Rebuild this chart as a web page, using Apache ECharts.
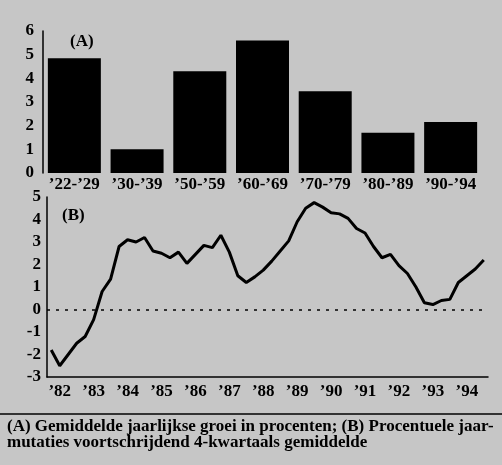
<!DOCTYPE html>
<html>
<head>
<meta charset="utf-8">
<script src="https://cdn.jsdelivr.net/npm/echarts@6/dist/echarts.min.js"></script>
<style>
  html, body { margin: 0; padding: 0; background: #c6c6c6; }
  #chart { width: 502px; height: 465px; }
</style>
</head>
<body>
<div id="chart"></div>
<script>
// (A) gemiddelde jaarlijkse groei per periode
const periods = ['’22-’29', '’30-’39', '’50-’59', '’60-’69', '’70-’79', '’80-’89', '’90-’94'];
const growth = [4.85, 1.0, 4.3, 5.6, 3.45, 1.7, 2.15];

// (B) kwartaalcijfers 1982 t/m 1994
const years = ['82', '83', '84', '85', '86', '87', '88', '89', '90', '91', '92', '93', '94'];
const mutations = [
  -1.8, -2.5, -2.0, -1.5,
  -1.2, -0.45, 0.8, 1.35,
  2.8, 3.1, 3.0, 3.2,
  2.6, 2.5, 2.3, 2.55,
  2.05, 2.45, 2.85, 2.75,
  3.3, 2.55, 1.5, 1.2,
  1.45, 1.75, 2.15, 2.6,
  3.05, 3.9, 4.5, 4.75,
  4.55, 4.3, 4.25, 4.05,
  3.6, 3.4, 2.8, 2.3,
  2.45, 1.95, 1.6, 1.0,
  0.3, 0.22, 0.4, 0.45,
  1.2, 1.5, 1.8, 2.2
];
const quarters = [];
years.forEach(function (y) {
  for (let q = 1; q <= 4; q++) quarters.push(y + 'Q' + q);
});

const serif = 'Liberation Serif';
const labelStyle = { color: '#000', fontFamily: serif, fontWeight: 'bold', fontSize: 17 };
const axisLineStyle = { show: true, onZero: false, lineStyle: { color: '#000', width: 1.5 } };

const chart = echarts.init(document.getElementById('chart'));

let option = {
  backgroundColor: '#c6c6c6',
  animation: false,
  grid: [
    { left: 43, top: 31, width: 439, height: 142 },
    { left: 47, top: 197, right: 14, height: 180 }
  ],
  xAxis: [
    {
      type: 'category',
      gridIndex: 0,
      data: periods,
      axisLine: { show: false },
      axisTick: { show: false },
      axisLabel: Object.assign({ interval: 0, margin: 3 }, labelStyle)
    },
    {
      // kwartalen: kleine streepjes + jaarlabels
      type: 'category',
      gridIndex: 1,
      data: quarters,
      axisLine: axisLineStyle,
      axisTick: { interval: 0, inside: true, length: 4, lineStyle: { color: '#000', width: 1 } },
      axisLabel: Object.assign({
        interval: function (i) { return i % 4 === 1; },
        formatter: function (v) { return '’' + v.slice(0, 2); },
        margin: 6
      }, labelStyle)
    },
    {
      // jaargrenzen: lange streepjes
      type: 'category',
      gridIndex: 1,
      data: quarters,
      axisLine: { show: false },
      axisTick: {
        interval: function (i) { return i % 4 === 0; },
        length: 5,
        lineStyle: { color: '#000', width: 1.5 }
      },
      axisLabel: { show: false }
    }
  ],
  yAxis: [
    {
      type: 'value',
      gridIndex: 0,
      position: 'left',
      min: 0,
      max: 6,
      interval: 1,
      axisLine: axisLineStyle,
      axisTick: { show: false },
      splitLine: { show: false },
      axisLabel: Object.assign({ margin: 9, showMinLabel: true, showMaxLabel: true }, labelStyle)
    },
    {
      type: 'value',
      gridIndex: 1,
      position: 'left',
      min: -3,
      max: 5,
      interval: 1,
      axisLine: axisLineStyle,
      axisTick: { show: false },
      splitLine: { show: false },
      axisLabel: Object.assign({ margin: 6, showMinLabel: true, showMaxLabel: true }, labelStyle)
    }
  ],
  series: [
    {
      name: 'groei',
      type: 'bar',
      xAxisIndex: 0,
      yAxisIndex: 0,
      data: growth,
      barWidth: 53,
      itemStyle: { color: '#000' }
    },
    {
      name: 'mutaties',
      type: 'line',
      xAxisIndex: 1,
      yAxisIndex: 1,
      data: mutations,
      symbol: 'none',
      lineStyle: { color: '#000', width: 3 },
      markLine: {
        silent: true,
        symbol: 'none',
        label: { show: false },
        lineStyle: { color: '#000', width: 1.5, type: [3, 6] },
        data: [{ yAxis: 0 }]
      }
    }
  ],
  graphic: [
    { type: 'text', left: 70, top: 33, style: { text: '(A)', font: 'bold 17px "Liberation Serif"', fill: '#000' } },
    { type: 'text', left: 62, top: 207, style: { text: '(B)', font: 'bold 17px "Liberation Serif"', fill: '#000' } },
    { type: 'line', shape: { x1: 0, y1: 414, x2: 502, y2: 414 }, style: { stroke: '#000', lineWidth: 1.5 } },
    {
      type: 'text', left: 7, top: 418,
      style: {
        text: '(A) Gemiddelde jaarlijkse groei in procenten; (B) Procentuele jaar-\nmutaties voortschrijdend 4-kwartaals gemiddelde',
        font: 'bold 17px "Liberation Serif"',
        lineHeight: 16,
        fill: '#000'
      }
    }
  ]
};

chart.setOption(option);
</script>
</body>
</html>
